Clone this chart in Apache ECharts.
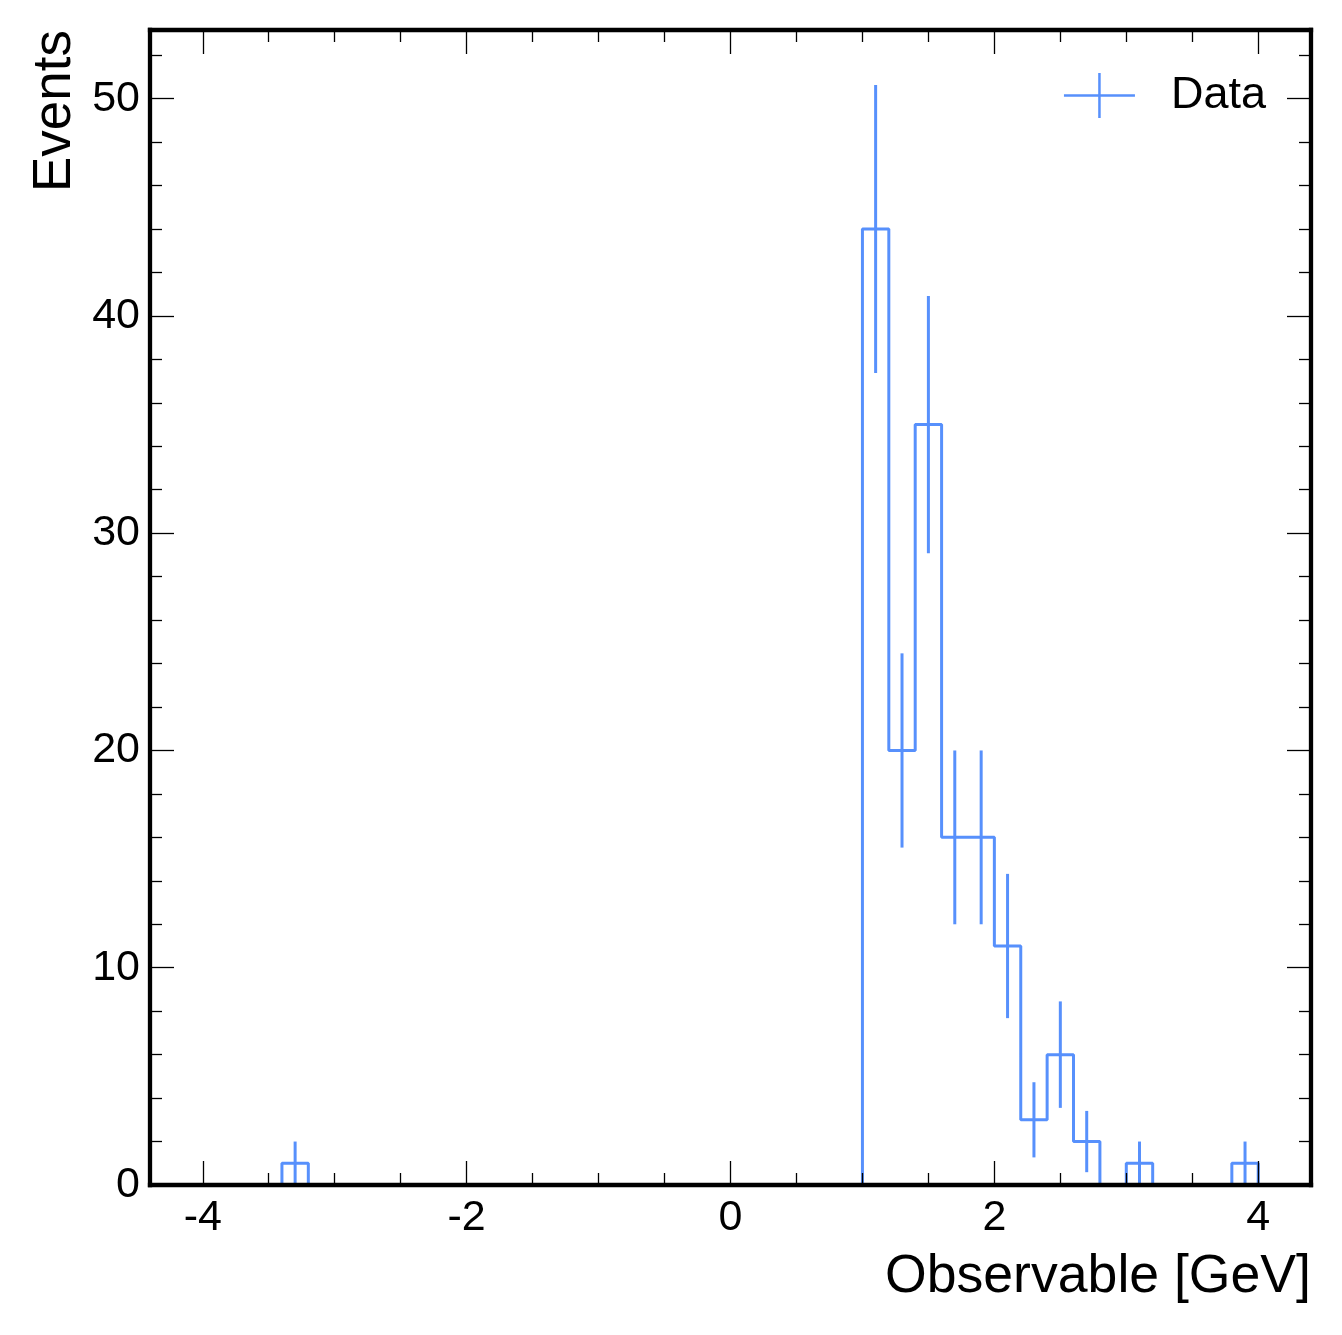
<!DOCTYPE html>
<html>
<head>
<meta charset="utf-8">
<script src="https://cdn.jsdelivr.net/npm/echarts@6/dist/echarts.min.js"></script>
<style>
html, body { margin: 0; padding: 0; background: #ffffff; }
#chart { width: 1342px; height: 1335px; }
</style>
</head>
<body>
<div id="chart"></div>
<script>
// ---- data ----
const binWidth = 0.2;
const binLo = [-3.4, 1.0, 1.2, 1.4, 1.6, 1.8, 2.0, 2.2, 2.4, 2.6, 3.0, 3.8];
const counts = [1, 44, 20, 35, 16, 16, 11, 3, 6, 2, 1, 1];
const errors = [1.0, 6.63, 4.47, 5.92, 4.0, 4.0, 3.32, 1.73, 2.45, 1.41, 1.0, 1.0];

const xRange = [-4.4, 4.4];
const yRange = [0, 53.16];
const xMajorTicks = [-4, -2, 0, 2, 4];
const xMinorTicks = [-3.5, -3, -2.5, -1.5, -1, -0.5, 0.5, 1, 1.5, 2.5, 3, 3.5];
const yMajorTicks = [0, 10, 20, 30, 40, 50];
const yMinorTicks = [2, 4, 6, 8, 12, 14, 16, 18, 22, 24, 26, 28, 32, 34, 36, 38, 42, 44, 46, 48, 52];

const seriesName = 'Data';
const xTitle = 'Observable [GeV]';
const yTitle = 'Events';

// ---- build step outline from bins ----
const stepPoints = [];
let prevHi = null;
for (let i = 0; i < binLo.length; i++) {
  const lo = binLo[i];
  const hi = Math.round((lo + binWidth) * 1e6) / 1e6;
  if (prevHi === null) {
    stepPoints.push([lo, 0]);
  } else if (Math.abs(lo - prevHi) > 1e-9) {
    stepPoints.push([prevHi, 0]);
    stepPoints.push([lo, 0]);
  }
  stepPoints.push([lo, counts[i]]);
  stepPoints.push([hi, counts[i]]);
  prevHi = hi;
}
stepPoints.push([prevHi, 0]);

const errData = binLo.map((lo, i) => [lo + binWidth / 2, counts[i] - errors[i], counts[i] + errors[i], counts[i]]);

const COLOR = '#5790fc';
const FONT = 'Liberation Sans';
const frameLine = { show: true, onZero: false, lineStyle: { color: '#000', width: 4.3, cap: 'square' } };
const noLine = { show: false, onZero: false };
const tickStyle = { color: '#000', width: 1.3 };

function xAxisDef(position, ticks, len, opts) {
  return Object.assign({
    type: 'value', position: position, min: xRange[0], max: xRange[1], z: 10,
    axisLine: noLine,
    axisTick: { show: true, inside: true, length: len, customValues: ticks, lineStyle: tickStyle },
    axisLabel: { show: false },
    splitLine: { show: false }
  }, opts || {});
}
function yAxisDef(position, ticks, len, opts) {
  return Object.assign({
    type: 'value', position: position, min: yRange[0], max: yRange[1], z: 10,
    axisLine: noLine,
    axisTick: { show: true, inside: true, length: len, customValues: ticks, lineStyle: tickStyle },
    axisLabel: { show: false },
    splitLine: { show: false }
  }, opts || {});
}

const option = {
  animation: false,
  backgroundColor: '#ffffff',
  textStyle: { fontFamily: FONT },
  grid: { left: 150, right: 31, top: 30, bottom: 150, containLabel: false },
  legend: {
    right: 76, top: 73, padding: 0, orient: 'horizontal',
    itemWidth: 71, itemHeight: 45,
    itemStyle: { borderWidth: 0 },
    textStyle: { fontSize: 45, color: '#000', fontFamily: FONT, padding: [2, 0, 0, 31] },
    data: [{ name: seriesName, icon: 'path://M0,21.25 L71,21.25 L71,23.75 L0,23.75 Z M34.25,0 L36.75,0 L36.75,45 L34.25,45 Z' }]
  },
  xAxis: [
    xAxisDef('bottom', xMajorTicks, 24, {
      axisLine: frameLine,
      axisLabel: { show: true, customValues: xMajorTicks, margin: 12, fontSize: 43, color: '#000', fontFamily: FONT },
      name: xTitle, nameLocation: 'end', nameGap: 0,
      nameTextStyle: { fontSize: 53.6, color: '#000', fontFamily: FONT, align: 'right', verticalAlign: 'top', padding: [65, 0, 0, 0] }
    }),
    xAxisDef('bottom', xMinorTicks, 12),
    xAxisDef('top', xMajorTicks, 24, { axisLine: frameLine }),
    xAxisDef('top', xMinorTicks, 12)
  ],
  yAxis: [
    yAxisDef('left', yMajorTicks, 24, {
      axisLine: frameLine,
      axisLabel: { show: true, customValues: yMajorTicks, margin: 10, fontSize: 43, color: '#000', fontFamily: FONT },
      name: yTitle, nameLocation: 'end', nameGap: 0, nameRotate: 90,
      nameTextStyle: { fontSize: 53, color: '#000', fontFamily: FONT, align: 'right', verticalAlign: 'bottom', padding: [0, 0, 68, 0] }
    }),
    yAxisDef('left', yMinorTicks, 12),
    yAxisDef('right', yMajorTicks, 24, { axisLine: frameLine }),
    yAxisDef('right', yMinorTicks, 12)
  ],
  series: [
    {
      name: seriesName, type: 'line', xAxisIndex: 0, yAxisIndex: 0,
      data: stepPoints, showSymbol: false, symbol: 'none',
      color: COLOR, lineStyle: { color: COLOR, width: 3 }, z: 2
    },
    {
      name: seriesName, type: 'custom', xAxisIndex: 0, yAxisIndex: 0,
      color: COLOR,
      data: errData,
      renderItem: function (params, api) {
        const x = api.value(0);
        const p1 = api.coord([x, api.value(1)]);
        const p2 = api.coord([x, api.value(2)]);
        return {
          type: 'line',
          shape: { x1: p1[0], y1: p1[1], x2: p2[0], y2: p2[1] },
          style: { stroke: COLOR, lineWidth: 3 }
        };
      },
      z: 3
    }
  ]
};

const chart = echarts.init(document.getElementById('chart'));
chart.setOption(option);
</script>
</body>
</html>
